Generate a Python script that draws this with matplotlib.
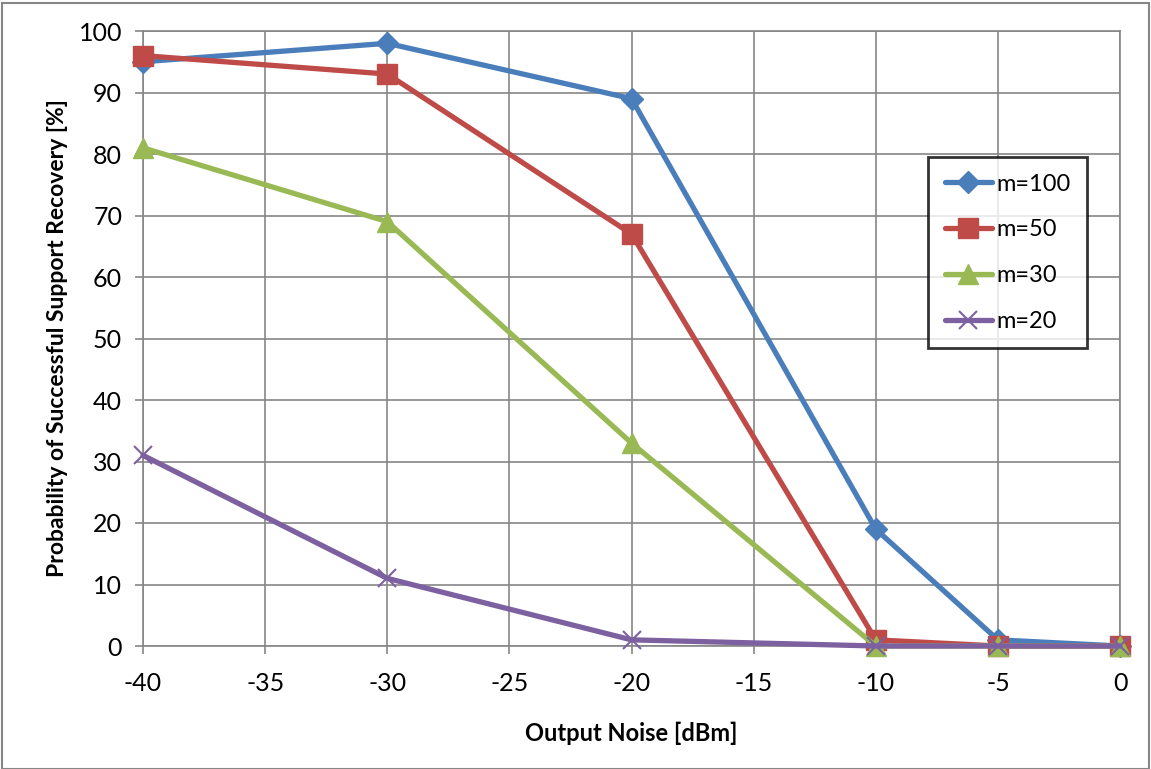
import matplotlib
matplotlib.use('Agg')
import matplotlib.pyplot as plt
from matplotlib.patches import Rectangle

noise = [-40, -30, -20, -10, -5, 0]
m100 = [95, 98, 89, 19, 1, 0]
m50 = [96, 93, 67, 1, 0, 0]
m30 = [81, 69, 33, 0, 0, 0]
m20 = [31, 11, 1, 0, 0, 0]

x_ticks = [-40, -35, -30, -25, -20, -15, -10, -5, 0]
y_ticks = [0, 10, 20, 30, 40, 50, 60, 70, 80, 90, 100]

plt.rcParams['font.family'] = ['Lato', 'DejaVu Sans']
plt.rcParams['axes.unicode_minus'] = False

fig = plt.figure(figsize=(11.51, 7.69), dpi=100)
ax = fig.add_axes([143 / 1151, 1 - 646 / 769, (1120 - 143) / 1151, (646 - 31) / 769])

grid_col = '#868686'

series = [
    (m100, 'm=100', '#4A7EBB', 'D', 11),
    (m50, 'm=50', '#BE4B48', 's', 14),
    (m30, 'm=30', '#98B954', '^', 14),
    (m20, 'm=20', '#7D60A0', 'x', 13),
]
for y, lab, col, mk, ms in series:
    kw = dict(markeredgewidth=1.5) if mk == 'x' else dict(markeredgecolor=col)
    ax.plot(noise, y, color=col, lw=3.8, marker=mk, markersize=ms,
            label=lab, solid_capstyle='round', clip_on=False, zorder=3, **kw)

ax.set_xlim(-40, 0)
ax.set_ylim(0, 100)
ax.set_xticks(x_ticks)
ax.set_yticks(y_ticks)
ax.grid(True, color=grid_col, lw=1.2)
ax.set_axisbelow(True)
for s in ax.spines.values():
    s.set_color(grid_col)
    s.set_linewidth(1.2)
ax.tick_params(axis='both', direction='out', length=6, color=grid_col,
               width=1.2, labelsize=18)
ax.tick_params(axis='y', pad=9)
ax.tick_params(axis='x', pad=13)

ax.set_xlabel('Output Noise [dBm]', fontsize=17, fontweight='bold', labelpad=19)
ax.set_ylabel('Probability of Successful Support Recovery [%]', fontsize=16.5,
              fontweight='bold', labelpad=8)

leg = ax.legend(loc='upper left', bbox_to_anchor=((928 - 143) / 977, 1 - (157 - 31) / 615),
                fontsize=17, frameon=True, fancybox=False, edgecolor='black',
                handlelength=2.0, labelspacing=1.05, borderpad=0.7, handletextpad=0.2,
                borderaxespad=0)
leg.get_frame().set_linewidth(2)

fig.patches.append(Rectangle((2 / 1151, 0), 1 - 4 / 1151, 1 - 3 / 769, transform=fig.transFigure,
                             fill=False, edgecolor=grid_col, lw=1.5))

fig.savefig('out.png', dpi=100)
